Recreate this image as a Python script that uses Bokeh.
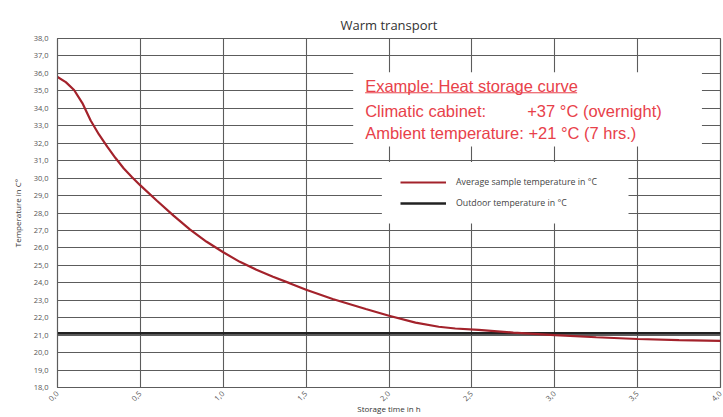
from bokeh.plotting import figure
from bokeh.embed import file_html
from bokeh.resources import INLINE
from bokeh.models import (Range1d, FixedTicker, Legend, LegendItem, Label)
import math

# ---- data ----
time_h = [0.0, 0.05, 0.1, 0.15, 0.2, 0.25, 0.3, 0.35, 0.4, 0.45, 0.5, 0.6, 0.7, 0.8, 0.9,
          1.0, 1.1, 1.2, 1.3, 1.4, 1.5, 1.66, 1.86, 2.0, 2.16, 2.3, 2.4, 2.54, 2.75, 3.0,
          3.25, 3.5, 3.75, 4.0]
sample_temp = [35.8, 35.5, 35.05, 34.3, 33.3, 32.5, 31.8, 31.15, 30.55, 30.05, 29.58, 28.7,
               27.85, 27.05, 26.35, 25.75, 25.2, 24.75, 24.35, 23.98, 23.6, 23.07, 22.5,
               22.11, 21.72, 21.48, 21.38, 21.3, 21.15, 21.0, 20.88, 20.78, 20.72, 20.67]
outdoor_time = [0.0, 4.0]
outdoor_temp = [21.1, 21.1]

x_ticks = [0.0, 0.5, 1.0, 1.5, 2.0, 2.5, 3.0, 3.5, 4.0]
x_tick_labels = ["0,0", "0,5", "1,0", "1,5", "2,0", "2,5", "3,0", "3,5", "4,0"]
y_ticks = list(range(18, 39))
y_tick_labels = [f"{v},0" for v in y_ticks]

title_text = "Warm transport"
note_lines = ["Example: Heat storage curve", "Climatic cabinet:", "Ambient temperature: +21 °C (7 hrs.)"]
note_tab = "+37 °C (overnight)"
legend_labels = ["Average sample temperature in °C", "Outdoor temperature in °C"]

RED = "#a3222b"
NOTE_RED = "#e8414a"
GRID = "#5c5c5c"
FONT = "Open Sans"

p = figure(width=723, height=417, output_backend="svg", toolbar_location=None,
           x_range=Range1d(0, 4), y_range=Range1d(18, 38),
           min_border_left=57, min_border_right=3, min_border_top=38, min_border_bottom=30,
           title=title_text)
p.title.align = "center"
p.title.text_font = FONT
p.title.text_font_style = "normal"
p.title.text_font_size = "13px"
p.title.text_color = "#333333"
p.outline_line_color = GRID
p.outline_line_width = 1.2

# axes
p.xaxis.ticker = FixedTicker(ticks=x_ticks)
p.xaxis.major_label_overrides = {t: l for t, l in zip(x_ticks, x_tick_labels)}
p.yaxis.ticker = FixedTicker(ticks=y_ticks)
p.yaxis.major_label_overrides = {t: l for t, l in zip(y_ticks, y_tick_labels)}
for ax in (p.xaxis[0], p.yaxis[0]):
    ax.major_tick_out = 0
    ax.major_tick_in = 0
    ax.minor_tick_out = 0
    ax.minor_tick_in = 0
    ax.axis_line_color = GRID
    ax.major_label_text_font = FONT
    ax.major_label_text_font_size = "7.5px"
    ax.major_label_text_color = "#555555"
    ax.axis_label_text_font = FONT
    ax.axis_label_text_font_style = "normal"
    ax.axis_label_text_font_size = "8px"
    ax.axis_label_text_color = "#333333"
p.xaxis.major_label_orientation = math.pi / 4
p.xaxis.major_label_standoff = 5
p.xaxis.axis_label = "Storage time in h"
p.xaxis.axis_label_standoff = -3
p.yaxis.major_label_standoff = 9
p.yaxis.axis_label = "Temperature in C°"
p.yaxis.axis_label_standoff = 8

p.xgrid.ticker = FixedTicker(ticks=x_ticks)
p.ygrid.ticker = FixedTicker(ticks=y_ticks)
p.grid.grid_line_color = GRID
p.grid.grid_line_width = 1.1

# white note boxes covering the grid
p.quad(left=[1.784, 1.957], right=[3.888, 3.445], bottom=[31.81, 27.40], top=[36.06, 30.92],
       fill_color="white", line_color=None)

# series
r_out = p.line(outdoor_time, outdoor_temp, line_color="#222222", line_width=2.6)
r_sample = p.line(time_h, sample_temp, line_color=RED, line_width=2.2)

legend = Legend(items=[LegendItem(label=legend_labels[0], renderers=[r_sample]),
                       LegendItem(label=legend_labels[1], renderers=[r_out])],
                location=(343, 177), padding=0, margin=0, spacing=7,
                glyph_width=46, glyph_height=14, label_height=14, label_standoff=10,
                label_text_font=FONT, label_text_font_size="8.8px", label_text_color="#444444",
                background_fill_alpha=0, border_line_color=None)
p.add_layout(legend, "center")

# red note text
ys = [35.25, 33.87, 32.56]
for txt, yv in zip(note_lines, ys):
    p.add_layout(Label(x=1.856, y=yv, text=txt, text_font="Liberation Sans",
                       text_font_size="16.5px", text_color=NOTE_RED, text_baseline="middle"))
p.add_layout(Label(x=2.834, y=ys[1], text=note_tab, text_font="Liberation Sans",
                   text_font_size="16.5px", text_color=NOTE_RED, text_baseline="middle"))
p.segment(x0=[1.856], y0=[34.89], x1=[3.135], y1=[34.89], line_color=NOTE_RED, line_width=1)

open("out.html", "w").write(file_html(p, INLINE))
